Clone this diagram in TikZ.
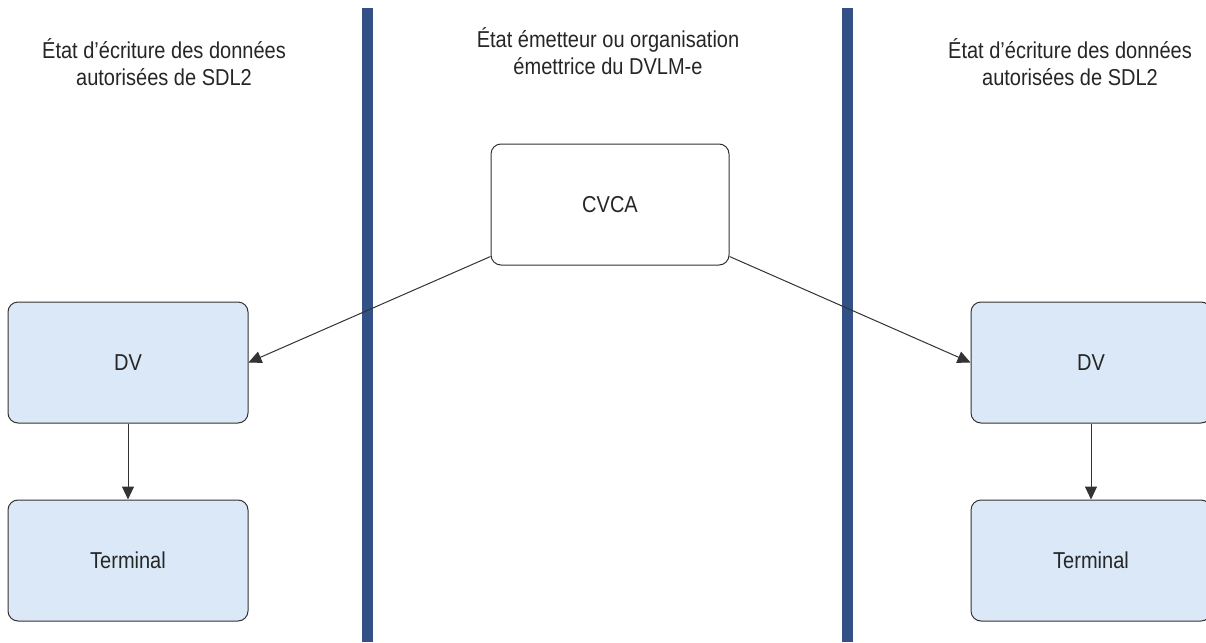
\documentclass[tikz,border=0pt]{standalone}
\usepackage{fontspec}
\setmainfont{Liberation Sans}[FakeStretch=0.87]
\usetikzlibrary{arrows.meta}
\definecolor{barblue}{RGB}{49,81,135}
\definecolor{boxfill}{RGB}{218,232,247}
\definecolor{ink}{RGB}{51,51,51}
\definecolor{txt}{RGB}{38,38,38}
\begin{document}
\begin{tikzpicture}[x=1pt,y=-1pt,
  every node/.style={font=\fontsize{23}{27.6}\selectfont, text=txt},
  entity/.style={draw=ink, line width=1pt, rounded corners=10pt,
    minimum width=240pt, minimum height=121pt, inner sep=0pt},
  bluebox/.style={entity, fill=boxfill},
  whitebox/.style={entity, fill=white, minimum width=238pt},
  heading/.style={align=center, inner sep=0pt},
  link/.style={draw=ink, line width=1pt, -{Triangle[length=13pt,width=12pt]}},
  lane/.style={fill=barblue, draw=none}]
  \useasboundingbox (0,0) rectangle (1206,642);
  \fill[white] (0,0) rectangle (1206,642);

  % lane separators
  \fill[lane] (362,8) rectangle (373,642);
  \fill[lane] (842,8) rectangle (853,642);

  % lane headings
  \node[heading] (hleft) at (164,62) {État d’écriture des données\\autorisées de SDL2};
  \node[heading] (hmid) at (608,51) {État émetteur ou organisation\\émettrice du DVLM-e};
  \node[heading] (hright) at (1070,62) {État d’écriture des données\\autorisées de SDL2};

  % entities
  \node[whitebox] (cvca) at (610,204.5) {CVCA};
  \node[bluebox] (dvl) at (128,362.5) {DV};
  \node[bluebox] (terml) at (128,560.5) {Terminal};
  \node[bluebox] (dvr) at (1091,362.5) {DV};
  \node[bluebox] (termr) at (1091,560.5) {Terminal};

  % certificate links
  \draw[link] ([yshift=9pt]cvca.south west) -- (dvl.east);
  \draw[link] ([yshift=9pt]cvca.south east) -- (dvr.west);
  \draw[link] (dvl.south) -- (terml.north);
  \draw[link] (dvr.south) -- (termr.north);
\end{tikzpicture}
\end{document}
